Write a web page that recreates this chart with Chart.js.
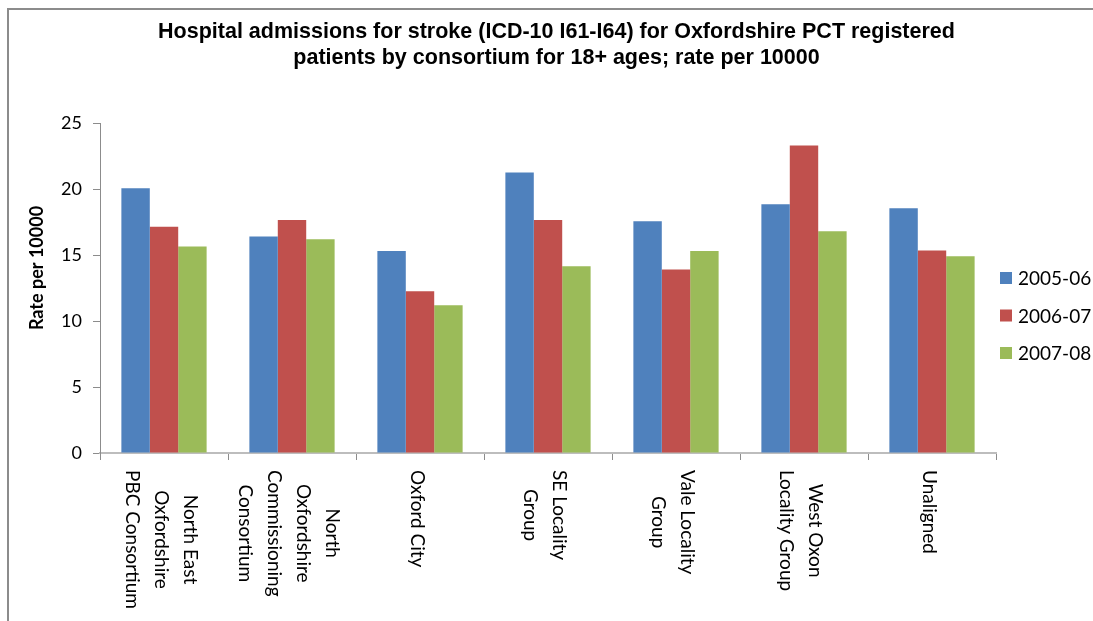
<!DOCTYPE html>
<html>
<head>
<meta charset="utf-8">
<script src="https://cdn.jsdelivr.net/npm/chart.js@4/dist/chart.umd.min.js"></script>
<style>
    html, body { margin: 0; padding: 0; background: #fff; }
    #wrap { width: 1093px; height: 621px; position: relative; }
</style>
</head>
<body>
<div id="wrap"><canvas id="strokeChart"></canvas></div>
<script>
// categories, one entry per line of the rotated axis label
const consortia = [
    ['North East', 'Oxfordshire', 'PBC Consortium'],
    ['North', 'Oxfordshire', 'Commissioning', 'Consortium'],
    ['Oxford City'],
    ['SE Locality', 'Group'],
    ['Vale Locality', 'Group'],
    ['West Oxon', 'Locality Group'],
    ['Unaligned']
];
const years = ['2005-06', '2006-07', '2007-08'];

// rate per 10000
const rate2005 = [20.05, 16.4, 15.3, 21.25, 17.55, 18.85, 18.55];
const rate2006 = [17.15, 17.65, 12.25, 17.65, 13.9, 23.3, 15.35];
const rate2007 = [15.65, 16.2, 11.2, 14.15, 15.3, 16.8, 14.9];

const yTicks = [0, 5, 10, 15, 20, 25];
const colors = ['#4F81BD', '#C0504D', '#9BBB59'];

const labelFont = '19px Lato, "Open Sans", sans-serif';

// outer frame of the original chart object
const framePlugin = {
    id: 'frame',
    afterLayout(chart) {
        // title sits a little right of the canvas centre in the original
        chart.titleBlock.left = 20;
    },
    beforeDraw(chart) {
        const ctx = chart.ctx;
        ctx.save();
        ctx.fillStyle = '#fff';
        ctx.fillRect(0, 0, chart.width, chart.height);
        ctx.strokeStyle = '#8c8c8c';
        ctx.lineWidth = 2;
        ctx.beginPath();
        ctx.moveTo(8, chart.height);
        ctx.lineTo(8, 9);
        ctx.lineTo(chart.width, 9);
        ctx.stroke();
        ctx.restore();
    }
};

// category labels rotated clockwise, lines centred on the tick
const xLabelPlugin = {
    id: 'xLabels',
    afterDraw(chart) {
        const ctx = chart.ctx;
        const xScale = chart.scales.x;
        const lh = 29;
        ctx.save();
        ctx.font = labelFont;
        ctx.fillStyle = '#000';
        ctx.textAlign = 'center';
        ctx.textBaseline = 'middle';
        chart.data.labels.forEach((lines, i) => {
            const x = xScale.getPixelForValue(i) - 3;
            const widest = Math.max(...lines.map(l => ctx.measureText(l).width));
            ctx.save();
            ctx.translate(x, xScale.top + 17);
            ctx.rotate(Math.PI / 2);
            lines.forEach((line, k) => {
                ctx.fillText(line, widest / 2, (k - (lines.length - 1) / 2) * lh);
            });
            ctx.restore();
        });

        // y axis title, placed a bit above the middle as in the original
        ctx.font = 'bold 18px Lato, "Open Sans", sans-serif';
        ctx.translate(37, 268);
        ctx.rotate(-Math.PI / 2);
        ctx.fillText('Rate per 10000', 0, 0);
        ctx.restore();
    }
};

// legend on the right
const legendPlugin = {
    id: 'sideLegend',
    afterDraw(chart) {
        const ctx = chart.ctx;
        const x0 = chart.chartArea.right + 4;
        const y0 = 278;
        const step = 37.5;
        ctx.save();
        ctx.font = labelFont;
        ctx.textBaseline = 'middle';
        ctx.textAlign = 'left';
        chart.data.datasets.forEach((ds, i) => {
            const y = y0 + i * step;
            ctx.fillStyle = ds.backgroundColor;
            ctx.fillRect(x0, y - 6, 12, 12);
            ctx.fillStyle = '#000';
            ctx.fillText(ds.label, x0 + 18, y + 1);
        });
        ctx.restore();
    }
};

const chart = new Chart(document.getElementById('strokeChart').getContext('2d'), {
    type: 'bar',
    data: {
        labels: consortia,
        datasets: [rate2005, rate2006, rate2007].map((values, i) => ({
            label: years[i],
            data: values,
            backgroundColor: colors[i],
            borderWidth: 0,
            categoryPercentage: 0.666,
            barPercentage: 1
        }))
    },
    options: {
        responsive: true,
        maintainAspectRatio: false,
        animation: false,
        layout: { padding: 0 },
        scales: {
            x: {
                grid: {
                    drawOnChartArea: false,
                    drawTicks: true,
                    tickLength: 7,
                    color: '#8c8c8c',
                    offset: true
                },
                border: { display: true, color: '#bdbdbd', width: 2 },
                ticks: { display: false },
                afterFit(scale) { scale.height = 168; }
            },
            y: {
                min: 0,
                max: 25,
                afterBuildTicks(scale) { scale.ticks = yTicks.map(v => ({ value: v })); },
                grid: {
                    drawOnChartArea: false,
                    drawTicks: true,
                    tickLength: 7,
                    color: '#8c8c8c'
                },
                border: { display: true, color: '#8c8c8c', width: 1 },
                ticks: {
                    color: '#000',
                    padding: 11,
                    font: { family: 'Lato, "Open Sans", sans-serif', size: 18 }
                },
                afterFit(scale) { scale.width = 100; }
            },
            // empty axis that keeps room for the legend on the right
            yRight: {
                position: 'right',
                min: 0,
                max: 25,
                grid: { display: false },
                border: { display: false },
                ticks: { display: false },
                afterFit(scale) { scale.width = 97; }
            }
        },
        plugins: {
            legend: { display: false },
            tooltip: { enabled: false },
            title: {
                display: true,
                text: [
                    'Hospital admissions for stroke (ICD-10 I61-I64) for Oxfordshire PCT registered',
                    'patients by consortium for 18+ ages; rate per 10000'
                ],
                color: '#000',
                font: { family: '"Liberation Sans", Arial, sans-serif', size: 21.5, weight: 'bold', lineHeight: 1.21 },
                padding: { top: 19, bottom: 52 }
            }
        }
    },
    plugins: [framePlugin, xLabelPlugin, legendPlugin]
});
</script>
</body>
</html>
